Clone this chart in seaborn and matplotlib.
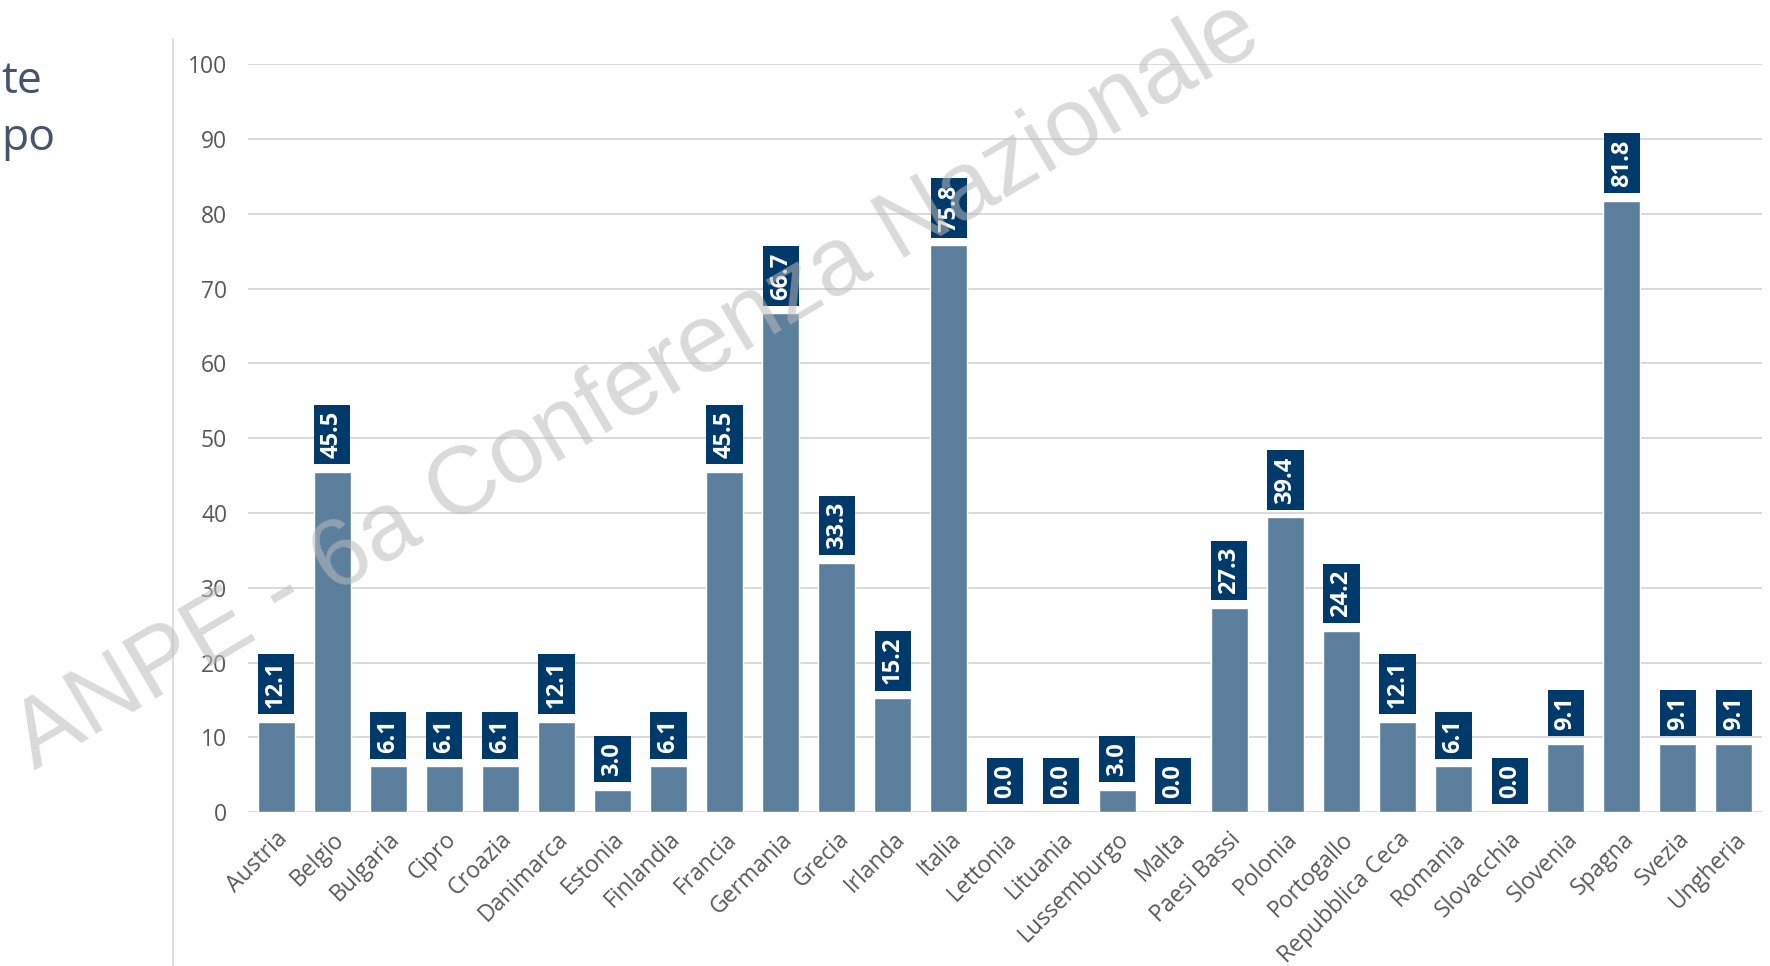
import matplotlib
matplotlib.use("Agg")
import matplotlib.pyplot as plt
import seaborn as sns

# share of cases per country (%)
COUNTRIES = ["Austria", "Belgio", "Bulgaria", "Cipro", "Croazia", "Danimarca",
             "Estonia", "Finlandia", "Francia", "Germania", "Grecia", "Irlanda",
             "Italia", "Lettonia", "Lituania", "Lussemburgo", "Malta",
             "Paesi Bassi", "Polonia", "Portogallo", "Repubblica Ceca",
             "Romania", "Slovacchia", "Slovenia", "Spagna", "Svezia", "Ungheria"]
VALUES = [12.1, 45.5, 6.1, 6.1, 6.1, 12.1, 3.0, 6.1, 45.5, 66.7, 33.3, 15.2,
          75.8, 0.0, 0.0, 3.0, 0.0, 27.3, 39.4, 24.2, 12.1, 6.1, 0.0, 9.1,
          81.8, 9.1, 9.1]
Y_TICKS = list(range(0, 101, 10))
WATERMARK = "ANPE - 6a Conferenza Nazionale"
SIDE_TEXT = ["te", "po"]

BAR_COLOR = "#5B7F9D"
BOX_COLOR = "#003A6B"
TEXT_GRAY = "#595959"
GRID_GRAY = "#D9D9D9"

sns.set_style("white")
plt.rcParams['font.family'] = ['Open Sans', 'DejaVu Sans']

W, H = 1770, 966
fig = plt.figure(figsize=(W / 100, H / 100), dpi=100)
ax = fig.add_axes([248 / W, 1 - 812 / H, (1762 - 248) / W, (812 - 64.5) / H])

sns.barplot(x=COUNTRIES, y=VALUES, color=BAR_COLOR, width=0.66,
            saturation=1, ax=ax, zorder=2)

ax.set_ylim(0, 100)
ax.set_yticks(Y_TICKS)
ax.yaxis.grid(True, color=GRID_GRAY, linewidth=1.4, zorder=0)
ax.set_axisbelow(True)
sns.despine(ax=ax, left=True, bottom=True, top=True, right=True)
ax.tick_params(axis='y', length=0, pad=15, labelsize=16.5, labelcolor=TEXT_GRAY)
ax.tick_params(axis='x', length=0, pad=11, labelsize=16.5, labelcolor=TEXT_GRAY)
for lbl in ax.get_xticklabels():
    lbl.set_rotation(45)
    lbl.set_ha('right')
    lbl.set_rotation_mode('anchor')

# value labels in dark boxes above each bar
for i, v in enumerate(VALUES):
    ax.annotate("%.1f" % v, (i, v), xytext=(0, 10), textcoords='offset points',
                rotation=90, ha='center', va='bottom', color='white',
                fontsize=17, fontweight='bold', zorder=3,
                bbox=dict(boxstyle='square,pad=0.26', fc=BOX_COLOR, ec='none'))

# left separator line and side text
fig.add_artist(plt.Line2D([173 / W, 173 / W], [0, 1 - 39 / H],
                          color=GRID_GRAY, linewidth=1.2))
fig.text(1 / W, 1 - 93 / H, SIDE_TEXT[0], fontsize=32, color="#44546A",
         ha='left', va='baseline')
fig.text(1 / W, 1 - 150 / H, SIDE_TEXT[1], fontsize=32, color="#44546A",
         ha='left', va='baseline')

# watermark
fig.text(637 / W, 1 - 386 / H, WATERMARK, fontsize=69, color="#BBBBBB",
         alpha=0.55, rotation=30.5, ha='center', va='center',
         family=['Liberation Sans', 'DejaVu Sans'], zorder=10)

fig.savefig("out.png", dpi=100)
